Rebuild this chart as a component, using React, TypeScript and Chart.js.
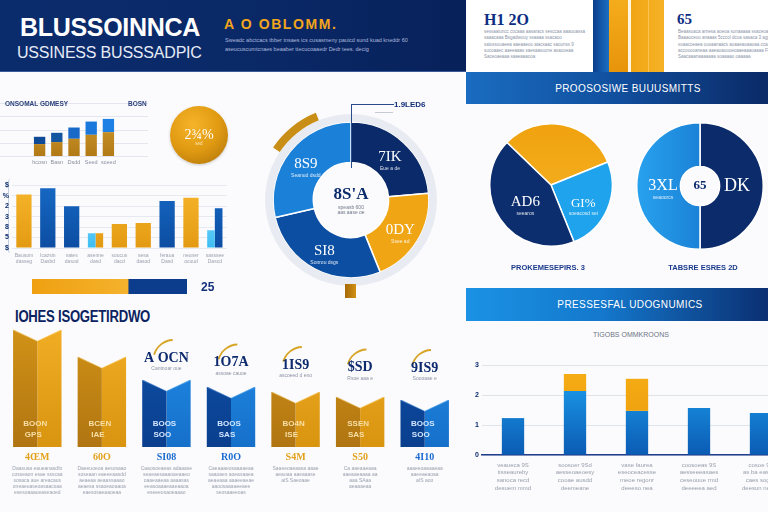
import React, { useEffect, useRef } from "react";
import { Chart, registerables } from "chart.js";

Chart.register(...registerables);

const FONT = '"Liberation Sans", Arial, sans-serif';
const SERIF = '"Liberation Serif", "DejaVu Serif", serif';
const NAVY = "#0b2b6b";
const GREY_TEXT = "#9aa0ad";
const PAGE_BG = "#fbfbfd";

// ---------- growth mini chart ----------
const growthLabels = ["hcosn", "Basn", "Dsdd", "Seed", "sceed"];
const growthBase = [9, 10.5, 13, 16, 18];
const growthTop = [5.5, 7, 8.5, 10, 10];
const growthTopColors = ["#0f4a96", "#13559f", "#1869c8", "#1a78dc", "#1c80e4"];
const growthGrid = [0, 10, 20, 30, 40];

// ---------- sales bar chart ----------
const salesLabels = [
  ["Bausom", "dasseg"],
  ["Icazsin", "Dasbd"],
  ["vates", "dasod"],
  ["asenne", "dasd"],
  ["soucus", "dacd"],
  ["sesa", "dasod"],
  ["feraua", "Dasd"],
  ["neuner", "ocuud"],
  ["sasssee", "Dascd"],
];
const salesMain = [5.1, 5.7, 4.0, 1.4, 2.3, 2.4, 4.5, 4.8, 3.8];
const salesKind = ["gold", "blue", "blue", "gold", "gold", "gold", "blue", "gold", "blue"];
const salesAccent = [null, null, null, 1.4, null, null, null, null, 1.7];
const salesTicks = ["$", "5", "8", "3", "2", "%", "$"];

// ---------- share bar ----------
const shareParts = [62, 38];
const shareLabel = "25";

// ---------- main donut ----------
const segmentNames = ["7IK", "0DY", "SI8", "8S9"];
const segmentNotes = ["Eue a de", "Ssee ad", "Sonrou dsgs", "Seanud dsdd"];
const segmentValues = [85, 73, 99, 103];
const ringAccent = [304, 34, 22];
const donutCenter = "8S'A";
const donutCenterNotes = ["speasb 600", "aas aase oe"];

// ---------- right pies ----------
const pieAValues = [114, 90, 156];
const pieANames = ["", "GI%", "AD6"];
const pieANotes = ["", "soeacosd sei", "seearos"];
const pieBValues = [50, 50];
const pieBNames = ["DK", "3XL"];
const pieBNotes = ["", "seaourcs"];
const pieBCenter = "65";

// ---------- metrics chart ----------
const metricLabels = [
  ["veaueca 9S", "tisseaureby", "sanoca recd", "desuem mmd"],
  ["soosoer 9Sd", "aesseoaeoesy", "cooae ausdd", "deemeane"],
  ["vase faurea", "eseoceacesse", "meoe regonr", "deeeso nea"],
  ["coosoeas 9S", "aesseeeasaes", "ceseouue rmd", "deeeeea aed"],
  ["cosoe 9S", "as ba easeae", "caes sogoe", "deesun neued"],
];
const metricBase = [1.23, 2.13, 1.47, 1.57, 1.4];
const metricExtra = [0, 0.57, 1.07, 0, 0];
const metricTicks = ["0", "1", "2", "3"];

// ---------- tier blocks ----------
const tierValues = [117, 90, 67, 60, 55, 50, 47];
const tierKind = ["gold", "gold", "blue", "blue", "gold", "gold", "blue"];
const tierTags = ["4ŒM", "60O", "SI08", "R0O", "S4M", "S50", "4I10"];
const tierHeads = ["", "", "A OCN", "1O7A", "1IS9", "$SD", "9IS9"];
const tierHeadNotes = ["", "", "Cantnoar oue", "assoae cauoe", "ascoeed d eno", "Rsoe aaa e", "Soooaae e"];
const tierInnerA = ["BOON", "BCEN", "BOOS", "BOOS", "BO4N", "SSEN", "BOOS"];
const tierInnerB = ["GPS", "IAE", "SOO", "SAS", "ISE", "SAS", "SOO"];
const tierNotes = [
  ["Daasusa eaueanasdfo", "cosseaon esae ssscaa", "sosaca aue areacaus", "oneaeuaseoasaacsaa", "esesoaaaueaseaoed"],
  ["Daeeuoeoa aesosaao", "soseaan eaeeeaasdd", "aeaeaa aeaassaaao", "aeaesa ssaoeaoaaoa", "eaesosaeaaoeaa"],
  ["Caaosoeaeas adaaase", "seaeaesaaaoaeaaeo", "oaaeaaeaa aaaasas", "eeasoaaaeaaeaaoa", "eseeeosaoeaaao"],
  ["Caeaaaeosaaaaeaa", "saaoaes aoeasaaea", "aeaeaaa aaaeeaeae", "aaoosaaaaeeaee", "seosaaeeoas"],
  ["Saaeeoaeaasa aaae", "aeaoaa aaeaaase", "aiS Saeoaae", "", ""],
  ["Ca aaeaaeaaa", "aaeaaeaaaa aa", "aaa SAaa", "aeaaaeaa", ""],
  ["aaaeeoaaaaeaa", "aaeeaeaoaa", "aIS aoo", "", ""],
];

// ---------- small text ----------
const headerLines = [
  "Sweadc abctcacs tbber tnsaes ics cusasmeny pauicd sund kuad kneddr 60",
  "aseucuscumtcnaes beaaber ttecucoaaedr Dedr tees.  decig",
];
const cardALines = [
  "sessaaiuncc cocaaa aasaracs sesccaa aaaooassa",
  "saaacaaa Bsgadwouy ssaaaa ssacaoo",
  "saiussouaeea aaeaaeoo aiacsaac saoonss 9",
  "sucoaaec aaeeaaas saesaasoone asaooeaa",
  "Saceoaeaaa saaeaaaooa",
];
const cardBLines = [
  "Beaasuaca arnesa aoeoa sonaaaaa ssaceoa a",
  "Baaaoceoo anaaas 5cccol dcoa sasaca 3 agp",
  "soaacoeaea ousaanaacs aoaaeaoaaoaa ccaaos",
  "accooooaneaa aaeaoaoooeoaaeaaaoaaaa FiF",
  "Saacaaanaaaaaaa soaaaao oaaaaa",
];

// ---------- helpers ----------
function vGrad(top: string, bottom: string) {
  return (ctx: any) => {
    const chart = ctx.chart;
    const area = chart.chartArea;
    if (!area) return bottom;
    const g = chart.ctx.createLinearGradient(0, area.top, 0, area.bottom);
    g.addColorStop(0, top);
    g.addColorStop(1, bottom);
    return g;
  };
}

function hGrad(left: string, right: string) {
  return (ctx: any) => {
    const chart = ctx.chart;
    const area = chart.chartArea;
    if (!area) return left;
    const g = chart.ctx.createLinearGradient(area.left, 0, area.right, 0);
    g.addColorStop(0, left);
    g.addColorStop(1, right);
    return g;
  };
}

// picks a fill per slice; each entry may be a colour or a scriptable
function perIndex(fills: any[]) {
  return (ctx: any) => {
    const f = fills[ctx.dataIndex];
    return typeof f === "function" ? f(ctx) : f;
  };
}

const baseOptions = {
  responsive: false,
  animation: false,
  events: [],
};
const quietPlugins = { legend: { display: false }, tooltip: { enabled: false }, title: { display: false } };

type ArcText = { ds: number; i: number; big: string; small?: string; size: number; color?: string; r?: number; dy?: number };

function arcTextPlugin(items: ArcText[]) {
  return {
    id: "arcText",
    afterDatasetsDraw(chart: any) {
      const c = chart.ctx;
      c.save();
      c.textAlign = "center";
      c.textBaseline = "middle";
      items.forEach((it) => {
        if (!it.big) return;
        const arc: any = chart.getDatasetMeta(it.ds).data[it.i];
        const p = arc.getProps(["x", "y", "startAngle", "endAngle", "innerRadius", "outerRadius"], true);
        const mid = (p.startAngle + p.endAngle) / 2;
        const rad = it.r ?? (p.innerRadius + p.outerRadius) / 2;
        const x = p.x + Math.cos(mid) * rad;
        const y = p.y + Math.sin(mid) * rad + (it.dy ?? 0);
        c.fillStyle = it.color ?? "#ffffff";
        c.font = `${it.size}px ${SERIF}`;
        c.fillText(it.big, x, y);
        if (it.small) {
          c.font = `5px ${FONT}`;
          c.globalAlpha = 0.85;
          c.fillText(it.small, x, y + it.size * 0.75);
          c.globalAlpha = 1;
        }
      });
      c.restore();
    },
  };
}

// ---------- chart builders ----------
function buildGrowth() {
  const fullGrid = {
    id: "fullGrid",
    beforeDatasetsDraw(chart: any) {
      const c = chart.ctx;
      const ys = chart.scales.y;
      c.save();
      c.strokeStyle = "#e3e6ee";
      c.lineWidth = 1;
      growthGrid.forEach((v) => {
        const py = Math.round(ys.getPixelForValue(v)) + 0.5;
        c.beginPath();
        c.moveTo(0, py);
        c.lineTo(148, py);
        c.stroke();
      });
      c.restore();
    },
  };
  return {
    type: "bar",
    data: {
      labels: growthLabels,
      datasets: [
        { data: growthBase, backgroundColor: vGrad("#d9a433", "#b27a16"), stack: "g", categoryPercentage: 1, barPercentage: 0.66 },
        { data: growthTop, backgroundColor: growthTopColors, stack: "g", categoryPercentage: 1, barPercentage: 0.66 },
      ],
    },
    options: {
      ...baseOptions,
      layout: { padding: { left: 31, right: 33, top: 3, bottom: 0 } },
      plugins: quietPlugins,
      scales: {
        x: {
          stacked: true,
          grid: { display: false, drawTicks: false },
          border: { display: false },
          ticks: { font: { size: 5.5, family: FONT }, color: "#8a909e", padding: 3, maxRotation: 0, autoSkip: false },
          afterFit: (s: any) => { s.height = 14; },
        },
        y: { stacked: true, display: false, min: 0, max: 40 },
      },
    },
    plugins: [fullGrid],
  };
}

function buildSales() {
  const gold = vGrad("#f7b62c", "#e39a12");
  const blue = vGrad("#1668c4", "#0c4da2");
  return {
    type: "bar",
    data: {
      labels: salesLabels,
      datasets: [
        { data: salesAccent, backgroundColor: vGrad("#9ae4ff", "#3dbdf2"), skipNull: true, categoryPercentage: 0.64, barPercentage: 1 },
        {
          data: salesMain,
          backgroundColor: (ctx: any) => (salesKind[ctx.dataIndex] === "gold" ? gold(ctx) : blue(ctx)),
          skipNull: true,
          categoryPercentage: 0.64,
          barPercentage: 1,
        },
      ],
    },
    options: {
      ...baseOptions,
      layout: { padding: { top: 6, left: 0, right: 0, bottom: 0 } },
      plugins: quietPlugins,
      scales: {
        x: {
          grid: { display: false, drawTicks: false },
          border: { display: false },
          ticks: { font: { size: 5, family: FONT, lineHeight: 1.3 }, color: GREY_TEXT, padding: 4, maxRotation: 0, autoSkip: false },
          afterFit: (s: any) => { s.height = 18; },
        },
        y: {
          min: 0,
          max: 6,
          grid: { color: "#e6e9f0", drawTicks: false },
          border: { display: false },
          ticks: {
            stepSize: 1,
            autoSkip: false,
            padding: 3,
            font: { size: 7, weight: "bold", family: FONT },
            color: NAVY,
            callback: (_v: any, i: number) => salesTicks[i],
          },
          afterFit: (s: any) => { s.width = 14; },
        },
      },
    },
  };
}

function buildShare() {
  return {
    type: "bar",
    data: {
      labels: [""],
      datasets: [
        { data: [shareParts[0]], backgroundColor: hGrad("#efa012", "#f8bd3c"), stack: "s", categoryPercentage: 1, barPercentage: 1 },
        { data: [shareParts[1]], backgroundColor: "#0c3c8c", stack: "s", categoryPercentage: 1, barPercentage: 1 },
      ],
    },
    options: {
      ...baseOptions,
      indexAxis: "y",
      plugins: quietPlugins,
      scales: {
        x: { display: false, stacked: true, min: 0, max: 100 },
        y: { display: false, stacked: true },
      },
    },
  };
}

function buildDonut() {
  const centerText = {
    id: "centerText",
    afterDraw(chart: any) {
      const arc: any = chart.getDatasetMeta(2).data[0];
      const c = chart.ctx;
      c.save();
      c.textAlign = "center";
      c.textBaseline = "middle";
      c.fillStyle = NAVY;
      c.font = `bold 17px ${SERIF}`;
      c.fillText(donutCenter, arc.x, arc.y - 5);
      c.font = `5px ${FONT}`;
      c.fillStyle = "#6f7788";
      donutCenterNotes.forEach((t, k) => c.fillText(t, arc.x, arc.y + 8 + k * 5));
      c.restore();
    },
  };
  return {
    type: "doughnut",
    data: {
      labels: segmentNames,
      datasets: [
        { data: ringAccent, backgroundColor: ["rgba(0,0,0,0)", "#c98e16", "rgba(0,0,0,0)"], borderWidth: 0, weight: 1 },
        { data: [1], backgroundColor: ["#e8ebf1"], borderWidth: 0, weight: 1 },
        {
          data: segmentValues,
          backgroundColor: ["#0b2a69", "#f0a514", "#0c4fa2", "#1b80d8"],
          borderColor: "#ffffff",
          borderWidth: 1.5,
          weight: 5,
        },
      ],
    },
    options: { ...baseOptions, cutout: "40%", rotation: 0, plugins: quietPlugins },
    plugins: [
      arcTextPlugin(segmentNames.map((n, i) => ({ ds: 2, i, big: n, small: segmentNotes[i], size: 15 }))),
      centerText,
    ],
  };
}

function buildPieA() {
  return {
    type: "pie",
    data: {
      labels: pieANames,
      datasets: [
        {
          data: pieAValues,
          backgroundColor: perIndex([vGrad("#f0a20e", "#f7b52a"), "#1fa3ec", "#0c2d6e"]),
          borderColor: "#ffffff",
          borderWidth: 1.5,
        },
      ],
    },
    options: { ...baseOptions, rotation: -46, plugins: quietPlugins },
    plugins: [
      arcTextPlugin(pieANames.map((n, i) => ({ ds: 0, i, big: n, small: pieANotes[i], size: i === 2 ? 15 : 13, r: i === 2 ? 31 : 35, dy: i === 1 ? 5 : 0 }))),
    ],
  };
}

function buildPieB() {
  const centerText = {
    id: "pieBCenter",
    afterDraw(chart: any) {
      const arc: any = chart.getDatasetMeta(0).data[0];
      const c = chart.ctx;
      c.save();
      c.textAlign = "center";
      c.textBaseline = "middle";
      c.fillStyle = NAVY;
      c.font = `bold 13px ${SERIF}`;
      c.fillText(pieBCenter, arc.x, arc.y);
      c.restore();
    },
  };
  return {
    type: "doughnut",
    data: {
      labels: pieBNames,
      datasets: [
        {
          data: pieBValues,
          backgroundColor: perIndex(["#0c2b6a", hGrad("#28a2ee", "#0f62c0")]),
          borderColor: "#ffffff",
          borderWidth: 1.5,
        },
      ],
    },
    options: { ...baseOptions, cutout: "31%", plugins: quietPlugins },
    plugins: [
      arcTextPlugin(pieBNames.map((n, i) => ({ ds: 0, i, big: n, small: pieBNotes[i], size: i === 0 ? 18 : 16, r: 37 }))),
      centerText,
    ],
  };
}

function buildMetrics() {
  return {
    type: "bar",
    data: {
      labels: metricLabels,
      datasets: [
        { data: metricBase, backgroundColor: vGrad("#1ea6f4", "#0b5bb3"), stack: "m", categoryPercentage: 1, barPercentage: 0.36 },
        { data: metricExtra, backgroundColor: vGrad("#f7ae14", "#e8980c"), stack: "m", categoryPercentage: 1, barPercentage: 0.36 },
      ],
    },
    options: {
      ...baseOptions,
      layout: { padding: { top: 10, left: 0, right: 0, bottom: 0 } },
      plugins: quietPlugins,
      scales: {
        x: {
          stacked: true,
          grid: { display: false, drawTicks: false },
          border: { color: "#1f3f8c", width: 1.5 },
          ticks: { font: { size: 6, family: FONT, lineHeight: 1.3 }, color: GREY_TEXT, padding: 6, maxRotation: 0, autoSkip: false },
          afterFit: (s: any) => { s.height = 40; },
        },
        y: {
          stacked: true,
          min: 0,
          max: 3,
          grid: { color: "#dfe3ea", drawTicks: false },
          border: { display: false },
          ticks: {
            stepSize: 1,
            autoSkip: false,
            padding: 3,
            font: { size: 7, weight: "bold", family: FONT },
            color: NAVY,
            callback: (_v: any, i: number) => metricTicks[i],
          },
          afterFit: (s: any) => { s.width = 12; },
        },
      },
    },
  };
}

function buildTiers() {
  const decor = {
    id: "tierDecor",
    afterDatasetsDraw(chart: any) {
      const c = chart.ctx;
      const leftBars = chart.getDatasetMeta(0).data;
      const rightBars = chart.getDatasetMeta(1).data;
      const base = chart.chartArea.bottom;
      c.save();
      c.textAlign = "center";
      c.textBaseline = "middle";
      leftBars.forEach((lb: any, i: number) => {
        const rb = rightBars[i];
        const x0 = lb.x - lb.width / 2;
        const x1 = rb.x + rb.width / 2;
        const mid = (x0 + x1) / 2;
        const top = lb.y;
        const gold = tierKind[i] === "gold";

        // folded top edge
        c.fillStyle = PAGE_BG;
        c.beginPath();
        c.moveTo(x0 - 1, top - 1);
        c.lineTo(x1 + 1, top - 1);
        c.lineTo(mid, top + 11);
        c.closePath();
        c.fill();
        c.strokeStyle = gold ? "rgba(255,220,140,0.55)" : "rgba(160,210,255,0.45)";
        c.lineWidth = 1;
        c.beginPath();
        c.moveTo(x0, top);
        c.lineTo(mid, top + 11);
        c.lineTo(x1, top);
        c.stroke();

        // inner captions
        c.fillStyle = gold ? "#f8dfa6" : "#d3e6ff";
        c.font = `bold 8px ${FONT}`;
        c.fillText(tierInnerA[i], mid - 2, base - 23);
        c.fillText(tierInnerB[i], mid - 4, base - 12);

        // headline above the block
        if (tierHeads[i]) {
          const headY = top - 22 - (i - 2) * 2.5;
          c.strokeStyle = "#d7a526";
          c.lineWidth = 1.8;
          c.beginPath();
          c.arc(mid + 7, headY + 2, 20, (195 * Math.PI) / 180, (268 * Math.PI) / 180);
          c.stroke();
          c.fillStyle = "#0d2a6e";
          c.font = `bold 14px ${SERIF}`;
          c.fillText(tierHeads[i], mid, headY);
          c.fillStyle = "#8c93a2";
          c.font = `5px ${FONT}`;
          c.fillText(tierHeadNotes[i], mid, headY + 11);
        }

        // value tag and notes under the block
        c.fillStyle = gold ? "#e2a11c" : "#1c6ccf";
        c.font = `bold 10px ${SERIF}`;
        c.fillText(tierTags[i], mid, base + 10);
        c.fillStyle = "#9ba1ae";
        c.font = `5px ${FONT}`;
        tierNotes[i].forEach((t, k) => c.fillText(t, mid, base + 22 + k * 6));
      });
      c.restore();
    },
  };
  const goldL = vGrad("#d49516", "#b07512");
  const blueL = vGrad("#0e52ac", "#0a3f8e");
  const goldR = vGrad("#f3b026", "#d99410");
  const blueR = vGrad("#2290ea", "#1670ca");
  const leftFace = (ctx: any) => (tierKind[ctx.dataIndex] === "gold" ? goldL(ctx) : blueL(ctx));
  const rightFace = (ctx: any) => (tierKind[ctx.dataIndex] === "gold" ? goldR(ctx) : blueR(ctx));
  return {
    type: "bar",
    data: {
      labels: tierTags,
      datasets: [
        { data: tierValues, backgroundColor: leftFace, categoryPercentage: 0.75, barPercentage: 1 },
        { data: tierValues, backgroundColor: rightFace, categoryPercentage: 0.75, barPercentage: 1 },
      ],
    },
    options: {
      ...baseOptions,
      layout: { padding: { top: 0, bottom: 53, left: 0, right: 0 } },
      plugins: quietPlugins,
      scales: {
        x: { display: false },
        y: { display: false, min: 0, max: 130 },
      },
    },
    plugins: [decor],
  };
}

// ---------- components ----------
function ChartBox({ x, y, w, h, build }: { x: number; y: number; w: number; h: number; build: () => any }) {
  const ref = useRef<HTMLCanvasElement | null>(null);
  useEffect(() => {
    if (!ref.current) return;
    const chart = new Chart(ref.current, build());
    return () => chart.destroy();
  }, [build]);
  return (
    <div style={{ position: "absolute", left: x, top: y, width: w, height: h }}>
      <canvas ref={ref} width={w} height={h} style={{ display: "block" }} />
    </div>
  );
}

function Lines({ x, y, lines, size, color, gap }: { x: number; y: number; lines: string[]; size: number; color: string; gap: number }) {
  return (
    <div style={{ position: "absolute", left: x, top: y, fontSize: size, lineHeight: `${gap}px`, color, fontFamily: FONT, whiteSpace: "nowrap" }}>
      {lines.map((l, i) => (
        <div key={i}>{l}</div>
      ))}
    </div>
  );
}

function Text({ x, y, children, style }: { x: number; y: number; children: React.ReactNode; style?: React.CSSProperties }) {
  return (
    <div style={{ position: "absolute", left: x, top: y, lineHeight: 1, whiteSpace: "nowrap", fontFamily: FONT, ...style }}>{children}</div>
  );
}

export default function App() {
  return (
    <div style={{ position: "fixed", left: 0, top: 0, width: 768, height: 512, overflow: "hidden", background: PAGE_BG, fontFamily: FONT }}>
      {/* header band */}
      <div style={{ position: "absolute", left: 0, top: 0, width: 466, height: 71, background: "linear-gradient(90deg,#0b2c6c 0%,#0a2866 60%,#07215a 100%)", borderBottom: "1px solid #3a5a9a" }} />
      <Text x={20} y={15} style={{ fontSize: 25, fontWeight: 700, color: "#ffffff", letterSpacing: -0.3 }}>BLUSSOINNCA</Text>
      <Text x={17} y={45} style={{ fontSize: 16, color: "#e6ebf7", letterSpacing: -0.2 }}>USSINESS BUSSSADPIC</Text>
      <Text x={224} y={17} style={{ fontSize: 14, fontWeight: 700, color: "#f2a51c", letterSpacing: 1.6 }}>A O OBLOMM.</Text>
      <Lines x={225} y={36} lines={headerLines} size={5.5} color="#aab8dc" gap={8.5} />

      {/* top right cards */}
      <div style={{ position: "absolute", left: 466, top: 0, width: 127, height: 72, background: "#ffffff" }} />
      <Text x={484} y={12} style={{ fontSize: 16, fontWeight: 700, color: "#0d2d82", fontFamily: SERIF }}>H1 2O</Text>
      <Lines x={484} y={29} lines={cardALines} size={4.5} color="#8a93a8" gap={6.3} />
      <div style={{ position: "absolute", left: 593, top: 0, width: 16, height: 72, background: "linear-gradient(90deg,#0b3d8a,#1a6fc4)" }} />
      <div style={{ position: "absolute", left: 609, top: 0, width: 19, height: 72, background: "linear-gradient(180deg,#f4ac1c,#e8940a)" }} />
      <div style={{ position: "absolute", left: 628, top: 0, width: 3, height: 72, background: "#fff6e4" }} />
      <div style={{ position: "absolute", left: 631, top: 0, width: 33, height: 72, background: "linear-gradient(90deg,#f1a514,#f6b226)" }} />
      <div style={{ position: "absolute", left: 648, top: 0, width: 1, height: 72, background: "#f7c352" }} />
      <div style={{ position: "absolute", left: 664, top: 0, width: 104, height: 72, background: "#ffffff" }} />
      <Text x={677} y={12} style={{ fontSize: 15, fontWeight: 700, color: "#0d2d82", fontFamily: SERIF }}>65</Text>
      <Lines x={678} y={29} lines={cardBLines} size={4.5} color="#8a93a8" gap={6.3} />

      {/* top banner */}
      <div style={{ position: "absolute", left: 466, top: 72, width: 302, height: 32, background: "linear-gradient(90deg,#1a6cc0 0%,#114f9e 50%,#0b2a66 100%)", display: "flex", alignItems: "center", justifyContent: "center", paddingLeft: 22, boxSizing: "border-box" }}>
        <span style={{ color: "#ffffff", fontSize: 10, letterSpacing: 0.4, fontFamily: FONT }}>PROOSOSIWE BUUUSMITTS</span>
      </div>

      {/* growth mini chart */}
      <ChartBox x={0} y={100} w={150} h={70} build={buildGrowth} />
      <Text x={5} y={101} style={{ fontSize: 6.5, fontWeight: 700, color: "#2a3f7a" }}>ONSOMAL GDMESY</Text>
      <Text x={128} y={101} style={{ fontSize: 6.5, fontWeight: 700, color: "#2a3f7a" }}>BOSN</Text>

      {/* gold badge */}
      <div style={{ position: "absolute", left: 170, top: 106, width: 58, height: 58, borderRadius: "50%", background: "radial-gradient(circle at 40% 32%, #f6b42a 0%, #e09a12 50%, #a96f08 100%)", boxShadow: "0 1px 3px rgba(0,0,0,0.2)" }} />
      <Text x={199} y={128} style={{ fontSize: 14, color: "#ffffff", transform: "translateX(-50%)", fontFamily: SERIF }}>2¾%</Text>
      <Text x={199} y={142} style={{ fontSize: 4.5, color: "#ffe6b0", transform: "translateX(-50%)" }}>sed</Text>

      {/* sales chart */}
      <div style={{ position: "absolute", left: 8, top: 179, width: 4, height: 74, borderLeft: "1px solid #c5cde0", borderRadius: 4 }} />
      <ChartBox x={-2} y={178} w={230} h={88} build={buildSales} />

      {/* share bar */}
      <ChartBox x={32} y={279} w={155} h={15} build={buildShare} />
      <Text x={201} y={281} style={{ fontSize: 12, fontWeight: 700, color: "#14307a" }}>{shareLabel}</Text>

      {/* main donut */}
      <ChartBox x={257} y={106} w={188} h={188} build={buildDonut} />
      <div style={{ position: "absolute", left: 351, top: 104, width: 1, height: 64, background: "#2a4a8a" }} />
      <div style={{ position: "absolute", left: 351, top: 104, width: 43, height: 1, background: "#2a4a8a" }} />
      <div style={{ position: "absolute", left: 375, top: 112, width: 18, height: 1, background: "#c5cad6" }} />
      <Text x={394} y={101} style={{ fontSize: 8, fontWeight: 700, color: "#14307a" }}>1.9LED6</Text>
      <div style={{ position: "absolute", left: 345, top: 284, width: 11, height: 14, background: "linear-gradient(90deg,#a56a08,#d18f14)" }} />

      {/* right pies */}
      <ChartBox x={489} y={123} w={124} h={124} build={buildPieA} />
      <ChartBox x={636} y={122} w={128} h={128} build={buildPieB} />
      <Text x={548} y={264} style={{ fontSize: 7.5, fontWeight: 700, color: "#1a3a8c", transform: "translateX(-50%)" }}>PROKEMESEPIRS. 3</Text>
      <Text x={703} y={264} style={{ fontSize: 7.5, fontWeight: 700, color: "#1a3a8c", transform: "translateX(-50%)" }}>TABSRE ESRES 2D</Text>

      {/* lower banner */}
      <div style={{ position: "absolute", left: 466, top: 288, width: 302, height: 33, background: "linear-gradient(90deg,#1b92e4 0%,#1478cc 45%,#0b2f72 100%)", display: "flex", alignItems: "center", justifyContent: "center", paddingLeft: 26, boxSizing: "border-box" }}>
        <span style={{ color: "#ffffff", fontSize: 10, letterSpacing: 0.4, fontFamily: FONT }}>PRESSESFAL UDOGNUMICS</span>
      </div>
      <Text x={631} y={331} style={{ fontSize: 7, color: "#6d7585", transform: "translateX(-50%)" }}>TIGOBS OMMKROONS</Text>

      {/* metrics chart */}
      <ChartBox x={470} y={355} w={322} h={140} build={buildMetrics} />

      {/* tier blocks */}
      <Text x={15} y={309} style={{ fontSize: 16, fontWeight: 700, color: "#0b2360", letterSpacing: -0.3, transform: "scaleX(0.82)", transformOrigin: "left" }}>IOHES ISOGETIRDWO</Text>
      <ChartBox x={5} y={317} w={452} h={183} build={buildTiers} />
    </div>
  );
}
